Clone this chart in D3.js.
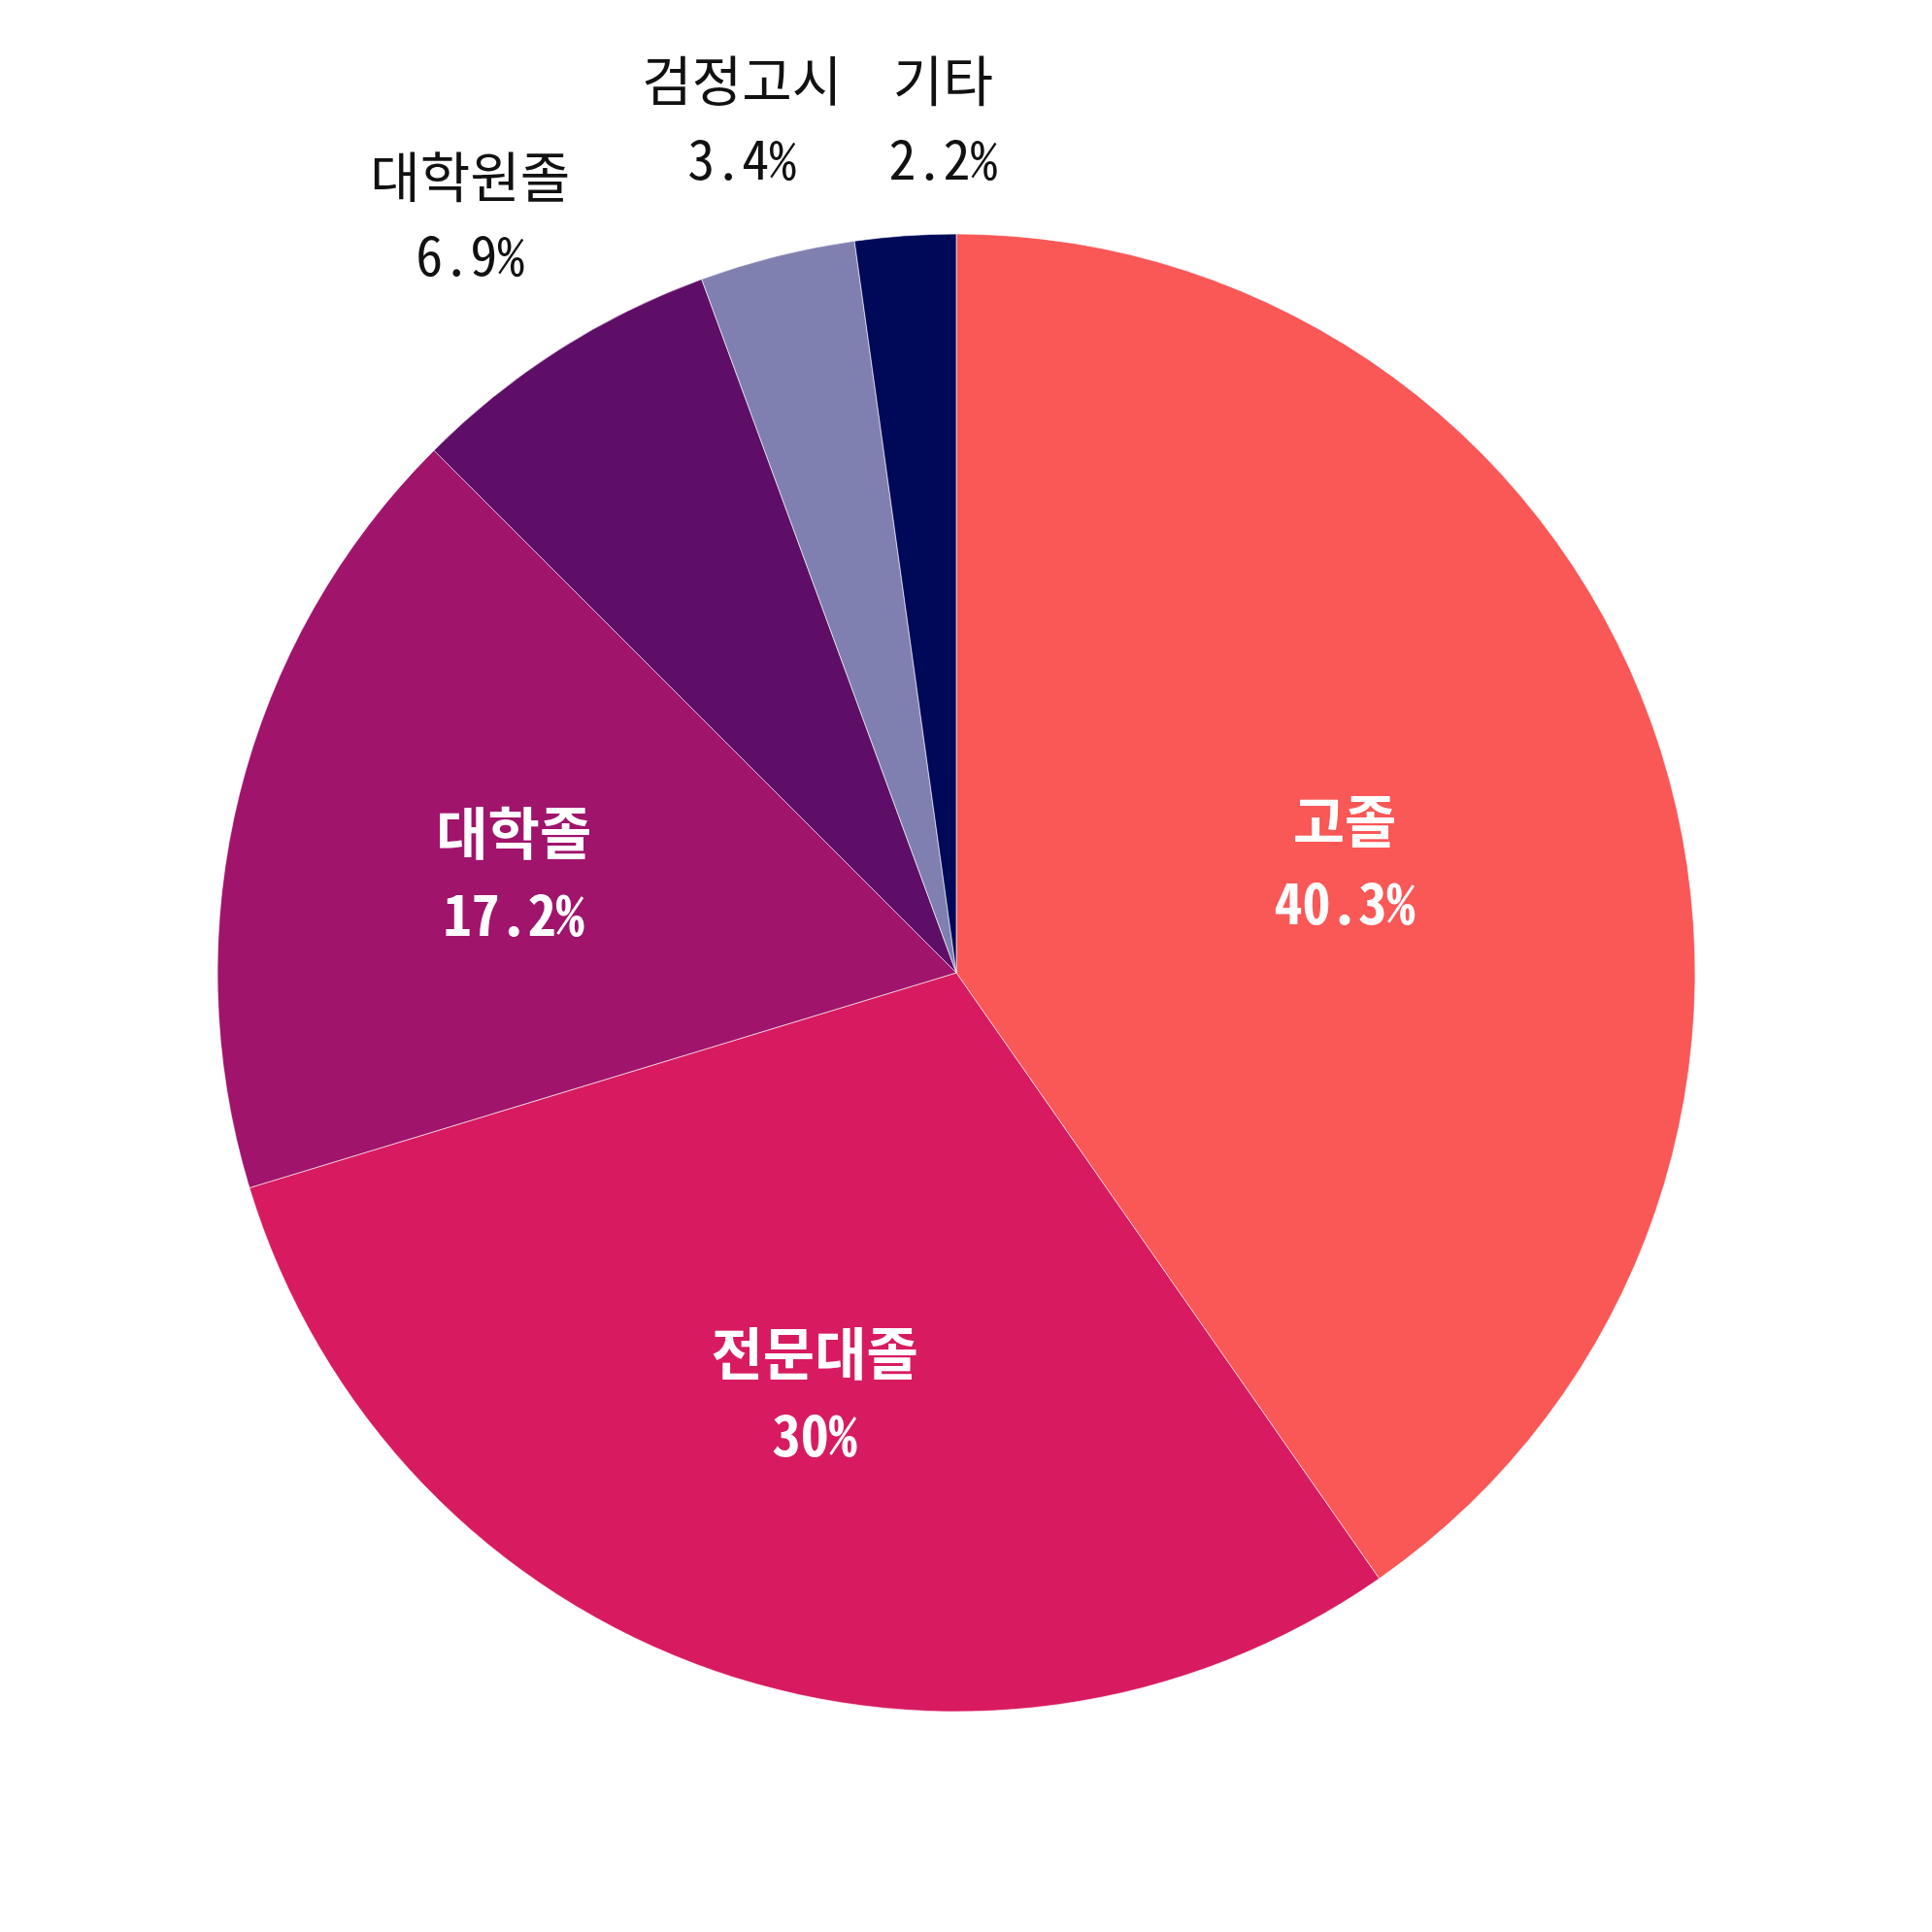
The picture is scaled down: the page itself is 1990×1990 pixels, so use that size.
<!DOCTYPE html>
<html>
<head>
<meta charset="utf-8">
<script src="https://cdn.jsdelivr.net/npm/d3@7"></script>
<style>
  body { margin: 0; background: #fff; }
  svg text { font-family: "Noto Sans Mono CJK KR", "Noto Sans CJK KR", monospace; }
</style>
</head>
<body>
<div id="chart"></div>
<script>
const categories = ["고졸", "전문대졸", "대학졸", "대학원졸", "검정고시", "기타"];
const values = [40.3, 30, 17.2, 6.9, 3.4, 2.2];
const pctLabels = ["40.3%", "30%", "17.2%", "6.9%", "3.4%", "2.2%"];
const colors = ["#fa5757", "#d81b60", "#a0146c", "#5f0e68", "#8080b0", "#000958"];

const canvasSize = 1990;
const center = { x: 985, y: 1002 };
const radius = 761;
const insideMin = 10;       // slices smaller than this get outside labels
const outsideGap = 48;
const outsidePad = 45;

const data = categories.map((c, i) => ({ name: c, value: values[i], pct: pctLabels[i], color: colors[i] }));

const svg = d3.select("#chart")
    .append("svg")
    .attr("width", canvasSize)
    .attr("height", canvasSize);

svg.append("rect")
    .attr("width", canvasSize)
    .attr("height", canvasSize)
    .attr("fill", "#fff");

const g = svg.append("g")
    .attr("transform", `translate(${center.x},${center.y})`);

const pie = d3.pie().sort(null).value(d => d.value);
const arcs = pie(data);

const arc = d3.arc().innerRadius(0).outerRadius(radius);
const midAngle = d => (d.startAngle + d.endAngle) / 2;

// inside label distance: between the sector's centre of mass and 0.6 r
const insideDist = d => {
    const half = (d.endAngle - d.startAngle) / 2;
    const mass = 2 * radius * Math.sin(half) / (3 * half);
    return (mass + radius * 0.6) / 2;
};

g.selectAll(".slice")
    .data(arcs)
    .enter()
    .append("path")
    .attr("class", "slice")
    .attr("d", arc)
    .attr("fill", d => d.data.color)
    .attr("stroke", "#fff")
    .attr("stroke-width", 0.6);

// label blocks: name on first line, percent below
const addLabel = (d, inside) => {
    const size = inside ? 58 : 56;
    const step = inside ? 84 : 81;
    const lg = g.append("g").attr("class", "label");
    const t = lg.append("text")
        .attr("text-anchor", "middle")
        .attr("font-size", size)
        .attr("font-weight", inside ? "bold" : "normal")
        .attr("fill", inside ? "#fff" : "#111");
    t.append("tspan")
        .attr("x", 0)
        .attr("y", -step / 2)
        .attr("dominant-baseline", "central")
        .text(d.data.name);
    t.append("tspan")
        .attr("x", 0)
        .attr("y", step / 2)
        .attr("dominant-baseline", "central")
        .text(d.data.pct);
    return lg;
};

arcs.filter(d => d.data.value >= insideMin)
    .forEach(d => {
        const a = midAngle(d), dist = insideDist(d);
        addLabel(d, true)
            .attr("transform", `translate(${Math.sin(a) * dist},${-Math.cos(a) * dist + 9})`);
    });

// outside labels: pushed out so the box clears the circle, then sideways on collision
let prev = null;
arcs.filter(d => d.data.value < insideMin).forEach(d => {
    const lg = addLabel(d, false);
    const bb = lg.node().getBBox();
    const a = midAngle(d), s = Math.sin(a), c = Math.cos(a);
    const dist = radius + outsidePad + Math.abs(s) * bb.width / 2 + Math.abs(c) * bb.height / 2;
    let x = s * dist, y = -c * dist;
    const box = { left: x - bb.width / 2, right: x + bb.width / 2, top: y - bb.height / 2, bottom: y + bb.height / 2 };
    if (prev && box.left < prev.right + outsideGap && box.top < prev.bottom) {
        x = prev.right + outsideGap + bb.width / 2;
        y = prev.y;
    }
    lg.attr("transform", `translate(${x},${y})`);
    prev = { right: x + bb.width / 2, bottom: y + bb.height / 2, y };
});
</script>
</body>
</html>
